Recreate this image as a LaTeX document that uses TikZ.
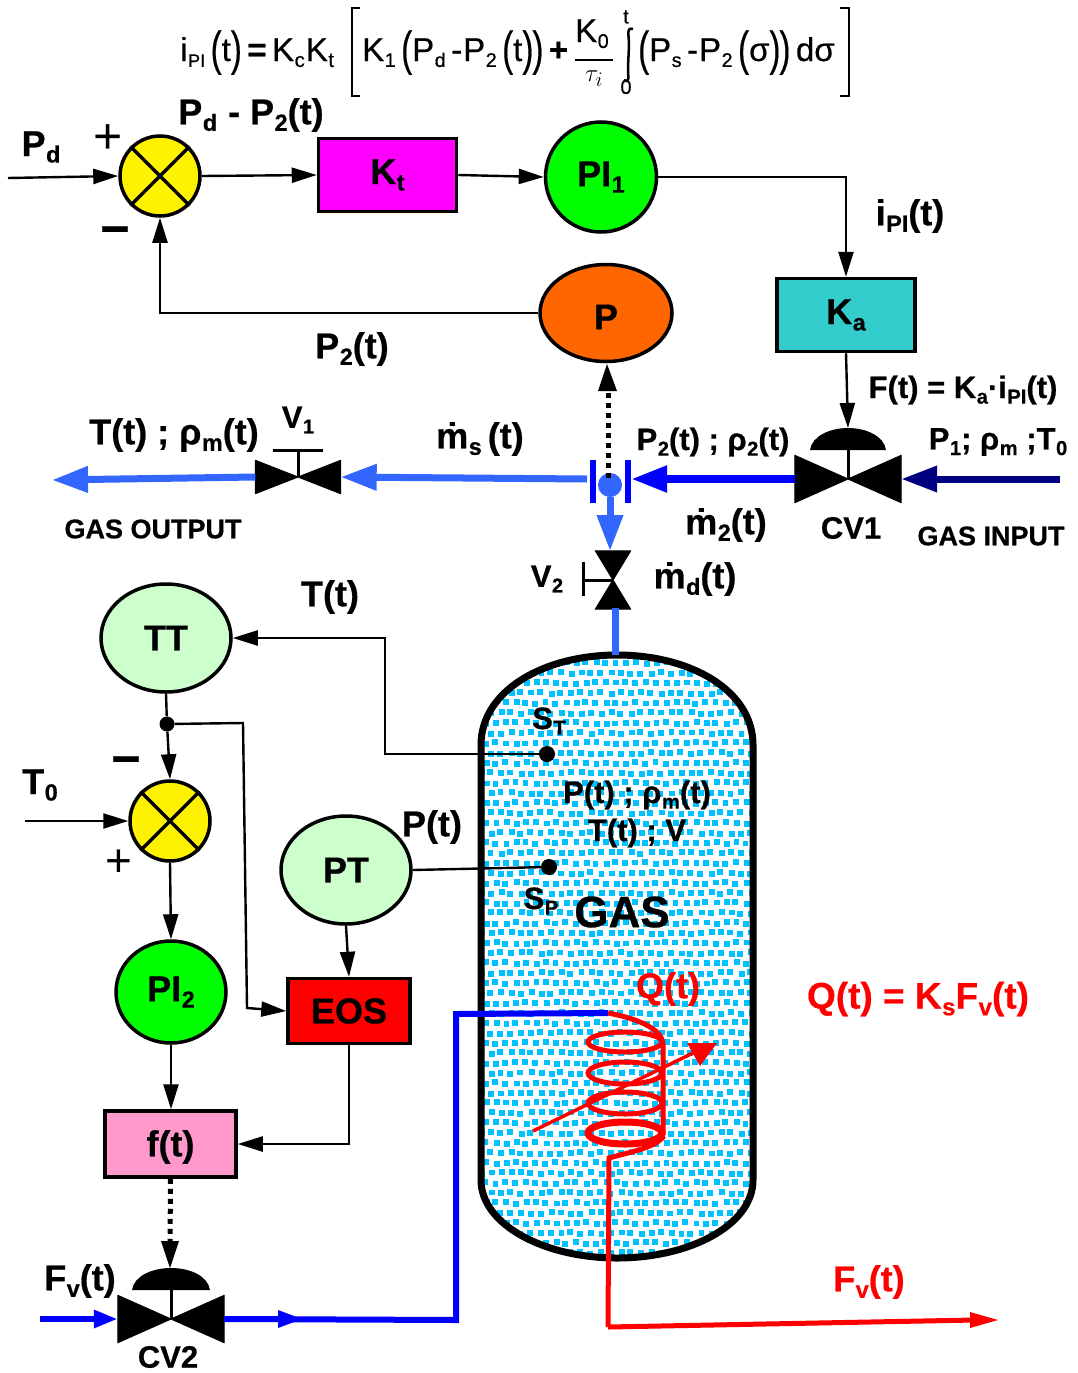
\documentclass[tikz,border=0pt]{standalone}
\usepackage{fontspec}
\setmainfont[BoldFeatures={FakeBold=0.6}]{Liberation Sans}
\newfontfamily\eqfont[FakeBold=0.5]{Liberation Sans}
\usetikzlibrary{arrows.meta,calc,shapes.geometric}
\definecolor{lblue}{HTML}{3366FF}
\definecolor{navyb}{HTML}{000080}
\definecolor{gascyan}{HTML}{00C2FF}
\definecolor{pinkbox}{HTML}{FF99CC}
\definecolor{tealbox}{HTML}{33CCCC}
\definecolor{palegreen}{HTML}{CCFFCC}
\definecolor{orangeb}{HTML}{FF6600}
\definecolor{magentab}{HTML}{FF00FF}
\newcommand\dn[2][.65]{\raisebox{-.18em}{\kern.5pt\scalebox{#1}{#2}}}
\newcommand\bigp[1]{\raisebox{-.12em}{\scalebox{1}[1.45]{#1}}}
\tikzset{
 x=1pt,y=-1pt,
 labfont/.style={font=\fontsize{36}{38}\selectfont\bfseries,inner sep=0pt,text=black},
 lab/.style={labfont,yshift=-2pt},
 small/.style={font=\fontsize{27}{30}\selectfont\bfseries,inner sep=0pt,text=black},
 mid/.style={font=\fontsize{31}{33}\selectfont\bfseries,inner sep=0pt,text=black,yshift=-1pt},
 redlab/.style={lab,text=red},
 eqn/.style={font=\eqfont\fontsize{33}{35}\selectfont,inner sep=0pt,anchor=base west},
 eqs/.style={font=\eqfont\fontsize{20}{22}\selectfont,inner sep=0pt},
 sumj/.style={circle,draw=black,line width=3.5pt,fill=yellow,minimum size=80pt,inner sep=0pt},
 blockb/.style={draw=black,line width=3.5pt,minimum width=#1,inner sep=0pt,labfont},
 oval/.style n args={3}{ellipse,draw=black,line width=3.5pt,fill=#1,minimum width=#2,minimum height=#3,inner sep=0pt,labfont},
 valvebox/.style n args={2}{inner sep=0pt,minimum width=#1,minimum height=#2},
 sig/.style={line width=2.4pt,-{Triangle[length=25pt,width=15pt]}},
 plainl/.style={line width=2.4pt},
 pipe/.style={line width=7pt,-{Triangle[length=36pt,width=25pt]}},
 dott/.style={line width=5pt,dash pattern=on 5pt off 5pt},
}
\begin{document}
\begin{tikzpicture}
\useasboundingbox (0,0) rectangle (1078,1373);
% ---------- vessel ----------
\path[fill=white,save path=\vesselp] (481,745) .. controls (481,690) and (545,655) .. (617,655) .. controls (690,655) and (753,690) .. (753,745) -- (753,1180) .. controls (753,1225) and (690,1258) .. (617,1258) .. controls (545,1258) and (481,1225) .. (481,1180) -- cycle;
\begin{scope}
\clip[use path=\vesselp];
\pgfmathsetseed{11}
\foreach \i in {0,...,28}{
 \foreach \j in {0,...,62}{
  \pgfmathsetmacro\px{478+\i*10+rand*1.4+mod(\j,2)*5}
  \pgfmathsetmacro\py{650+\j*10+rand*1.4}
  \fill[gascyan] (\px,\py) rectangle ++(5.9,5.9);
 }
}
\end{scope}
\draw[line width=7pt,use path=\vesselp];
% ---------- equation ----------
\node[eqn] (eqa) at (180,61) {i\dn[.55]{PI}\,\bigp{(}t\bigp{)}\,\textbf{=}\,K\dn[.62]{c}\kern1pt K\dn[.62]{t}};
\node[eqn] (eqb) at (362,61) {K\dn[.6]{1}\,\bigp{(}P\dn[.6]{d}\,-\kern1pt P\dn[.6]{2}\,\bigp{(}t\bigp{)}\kern-1pt\bigp{)}\,\textbf{+}};
\node[eqn] (eqc) at (575,42) {K\dn[.6]{0}};
\node[inner sep=0pt,font=\fontsize{30}{32}\selectfont] (eqd) at (594,79) {$\tau_i$};
\coordinate (fracL) at (575,60);
\coordinate (fracR) at (613,60);
\draw[line width=2pt] (fracL) -- (fracR);
\node[eqs] (eqt) at (626,17) {t};
\node[eqs] (eqz) at (626,87) {0};
\draw[line width=2.5pt] (633,29) .. controls (626,27) and (629,35) .. (629,45) -- (628,68) .. controls (628,78) and (630,83) .. (624,80);
\node[eqn] (eqe) at (638,61) {\bigp{(}P\dn[.6]{s}\,-\kern1pt P\dn[.6]{2}\,\bigp{(}σ\bigp{)}\kern-1pt\bigp{)}\,dσ};
\draw[line width=2pt] (360,8) -- (352,8) -- (352,96) -- (360,96);
\draw[line width=2pt] (840,8) -- (849,8) -- (849,96) -- (840,96);
% ---------- top loop ----------
\node[sumj] (sumA) at (160,176) {};
\draw[line width=3.5pt] (sumA.north west) -- (sumA.south east) (sumA.north east) -- (sumA.south west);
\node[blockb=138pt,minimum height=73pt,fill=magentab] (kt) at (387.5,175) {K\dn{t}};
\node[oval={green}{111pt}{110pt}] (pione) at (601,177) {PI\dn{1}};
\node[oval={orangeb}{132pt}{97pt}] (pp) at (606,313) {\raisebox{-4pt}[\height][\depth]{P}};
\node[blockb=138pt,minimum height=73pt,fill=tealbox] (ka) at (846,315) {K\dn{a}};
\coordinate (pdin) at (8,178);
\draw[sig] (pdin) -- (sumA.west);
\draw[sig] (sumA.east) -- (kt.west);
\draw[sig] (kt.east) -- (pione.west);
\draw[sig] (pione.east) -| (ka.north);
\draw[sig] (pp.west) -| (sumA.south);
% ---------- valves ----------
\node[valvebox={106pt}{47pt}] (cvone) at (848,479) {};
\fill[line join=round,draw=black,line width=1pt] (cvone.north west) -- (cvone.center) -- (cvone.south west) -- cycle (cvone.north east) -- (cvone.center) -- (cvone.south east) -- cycle;
\fill (810,450) .. controls (812,436) and (830,428) .. (848,428) .. controls (866,428) and (884,436) .. (886,450) -- cycle;
\draw[line width=3pt] (848,450) -- (cvone.center);
\coordinate (domeA) at (848,428);
\node[valvebox={85pt}{33pt}] (vone) at (298,477) {};
\fill[line join=round,draw=black,line width=1pt] (vone.north west) -- (vone.center) -- (vone.south west) -- cycle (vone.north east) -- (vone.center) -- (vone.south east) -- cycle;
\draw[line width=3pt] (vone.center) -- (298,450) (273,450) -- (323,450);
\node[valvebox={35pt}{58pt}] (vtwo) at (613,580) {};
\fill[line join=round,draw=black,line width=1pt] (vtwo.north west) -- (vtwo.center) -- (vtwo.north east) -- cycle (vtwo.south west) -- (vtwo.center) -- (vtwo.south east) -- cycle;
\draw[line width=3pt] (vtwo.center) -- (583,580) (583,562) -- (583,596);
\node[valvebox={106pt}{47pt}] (cvtwo) at (171,1319) {};
\fill[line join=round,draw=black,line width=1pt] (cvtwo.north west) -- (cvtwo.center) -- (cvtwo.south west) -- cycle (cvtwo.north east) -- (cvtwo.center) -- (cvtwo.south east) -- cycle;
\fill (132,1290) .. controls (134,1276) and (152,1268) .. (171,1268) .. controls (190,1268) and (208,1276) .. (210,1290) -- cycle;
\draw[line width=3pt] (171,1290) -- (cvtwo.center);
% ---------- junction ----------
\node[circle,fill=lblue,minimum size=24pt,inner sep=0pt] (jct) at (610,485) {};
\draw[blue,line width=6pt] (593,460) -- (593,503) (628,460) -- (628,503);
\coordinate (junR) at (631,479);
\coordinate (junL) at (587,479);
\coordinate (gasin) at (1060,479);
\coordinate (gasout) at (52,480);
\coordinate (vtwoin) at (610,551);
\coordinate (vtwoout) at (615.5,608);
\coordinate (tanktop) at (615.5,655);
\coordinate (dotend) at (608,385);
\coordinate (dotstart) at (608,478);
\draw[pipe,navyb] (gasin) -- (cvone.east);
\draw[pipe,blue,line width=8pt] (cvone.west) -- (junR);
\draw[pipe,lblue] (junL) -- (vone.east);
\draw[pipe,lblue] (vone.west) -- (gasout);
\draw[pipe,lblue] (jct.south -| vtwoin) -- (vtwoin);
\draw[lblue,line width=7pt] (vtwoout) -- (tanktop);
\draw[dott] (dotstart) -- (dotend);
\fill (607,364) -- (617,391) -- (598,391) -- cycle;
\draw[sig] (ka.south) -- (domeA);
% ---------- lower left ----------
\node[oval={palegreen}{130pt}{108pt}] (tt) at (166,638) {TT};
\node[sumj] (sumB) at (170,821) {};
\draw[line width=3.5pt] (sumB.north west) -- (sumB.south east) (sumB.north east) -- (sumB.south west);
\node[oval={palegreen}{130pt}{108pt}] (pt) at (346,870) {PT};
\node[oval={green}{110pt}{102pt}] (pitwo) at (171,992) {PI\dn{2}};
\node[blockb=122pt,minimum height=65pt,fill=red] (eos) at (349,1011) {EOS};
\node[blockb=131pt,minimum height=66pt,fill=pinkbox] (ft) at (170.5,1144) {\raisebox{-3pt}[\height][\depth]{f(t)}};
\node[circle,fill=black,minimum size=15pt,inner sep=0pt] (dotT) at (167,724) {};
\node[circle,fill=black,minimum size=16pt,inner sep=0pt] (sT) at (547,754) {};
\node[circle,fill=black,minimum size=16pt,inner sep=0pt] (sP) at (549,867) {};
\coordinate (tzin) at (25,821);
\draw[sig] (sT) -- (385,754) |- (tt.east);
\draw[plainl] (tt.south) -- (dotT);
\draw[sig] (dotT) -- (sumB.north);
\draw[sig] (dotT) -- (243,723) -- (247,1008) -- (eos.west);
\draw[sig] (tzin) -- (sumB.west);
\draw[sig] (sumB.south) -- (pitwo.north);
\draw[sig] (pitwo.south) -- (ft.north -| pitwo.south);
\draw[plainl] (pt.east) -- (sP);
\draw[sig] (pt.south) -- (eos.north);
\draw[sig] (eos.south) |- (ft.east);
\draw[dott] (ft.south) -- (170,1245);
\fill (170,1268) -- (179,1241) -- (161,1241) -- cycle;
% ---------- heater ----------
\coordinate (fvin) at (40,1319);
\coordinate (coiltop) at (608,1013);
\draw[blue,line width=6pt,-{Triangle[length=24pt,width=17pt]}] (fvin) -- (cvtwo.west);
\draw[blue,line width=6pt] (cvtwo.east) -- (456,1320) -- (456,1014) -- (coiltop);
\fill[blue] (302,1319) -- (278,1310) -- (278,1328) -- cycle;
\begin{scope}[red]
\draw[line width=5pt] (coiltop) .. controls (635,1018) and (662,1028) .. (663,1044) -- (663,1135);
\draw[line width=5pt] (625,1042) ellipse [x radius=37pt,y radius=10pt];
\draw[line width=5pt] (625,1073) ellipse [x radius=37pt,y radius=11pt];
\draw[line width=5pt] (625,1103) ellipse [x radius=37pt,y radius=11pt];
\draw[line width=7pt] (625,1133) ellipse [x radius=37pt,y radius=11pt];
\draw[line width=5pt] (664,1136) .. controls (655,1148) and (630,1152) .. (609,1158) -- (608,1327);
\draw[line width=3.5pt] (533,1131) -- (695,1052);
\fill (717,1043) -- (700,1066) -- (687,1043) -- cycle;
\draw[line width=5pt] (608,1327) -- (975,1320);
\fill (998,1320) -- (970,1312) -- (970,1328) -- cycle;
\end{scope}
% ---------- labels ----------
\node[lab] (lPd) at (41,145) {P\dn{d}};
\node[lab] (lErr) at (251,113) {P\dn{d}\kern1pt{} - P\dn{2}(t)};
\node[font=\fontsize{50}{52}\selectfont,inner sep=0pt] (lpl) at (108,139) {+};
\node[font=\fontsize{50}{52}\selectfont\bfseries,inner sep=0pt] (lmi) at (115,236) {−};
\node[lab] (lipi) at (910,214) {i\dn{PI}(t)};
\node[lab] (lp2) at (352,347) {P\dn{2}(t)};
\node[mid] (lF) at (963,389) {F(t) = K\dn{a}·i\dn{PI}(t)};
\node[mid] (lP1) at (998,441) {P\dn{1}; ρ\dn{m} ;T\dn{0}};
\node[lab] (lT) at (174,433) {T(t) ; ρ\dn{m}(t)};
\node[mid] (lV1) at (298,419) {V\dn{1}};
\node[lab] (lms) at (480,437) {\.{m}\dn{s}\,(t)};
\node[mid] (lP2r) at (713,441) {P\dn{2}(t) ; ρ\dn{2}(t)};
\node[lab] (lm2) at (726,523) {\.{m}\dn{2}(t)};
\node[mid] (lCV1) at (851,527) {CV1};
\node[small] (lGI) at (991,536) {GAS INPUT};
\node[small] (lGO) at (153,529) {GAS OUTPUT};
\node[mid] (lV2) at (547,578) {V\dn{2}};
\node[lab] (lmd) at (695,577) {\.{m}\dn{d}(t)};
\node[lab] (lTt) at (330,595) {T(t)};
\node[mid] (lST) at (549,720) {S\dn{T}};
\node[mid] (lPg) at (637,794) {P(t) ; ρ\dn{m}(t)};
\node[mid] (lTg) at (637,832) {T(t) ; V};
\node[lab] (lPt) at (432,825) {P(t)};
\node[mid] (lSP) at (541,900) {S\dn{P}};
\node[font=\fontsize{44}{46}\selectfont\bfseries,inner sep=0pt] (lGas) at (622,912) {GAS};
\node[lab] (lT0) at (40,783) {T\dn{0}};
\node[font=\fontsize{50}{52}\selectfont\bfseries,inner sep=0pt] (lmi2) at (126,766) {−};
\node[font=\fontsize{46}{48}\selectfont,inner sep=0pt] (lpl2) at (119,863) {+};
\node[redlab] (lQ) at (668,987) {Q(t)};
\node[redlab,font=\fontsize{37}{39}\selectfont\bfseries] (lQe) at (918,997) {Q(t) = K\dn{s}F\dn{v}(t)};
\node[redlab] (lFr) at (869,1280) {F\dn{v}(t)};
\node[lab] (lFv) at (80,1279) {F\dn{v}(t)};
\node[mid] (lCV2) at (168,1356) {CV2};
\end{tikzpicture}
\end{document}
